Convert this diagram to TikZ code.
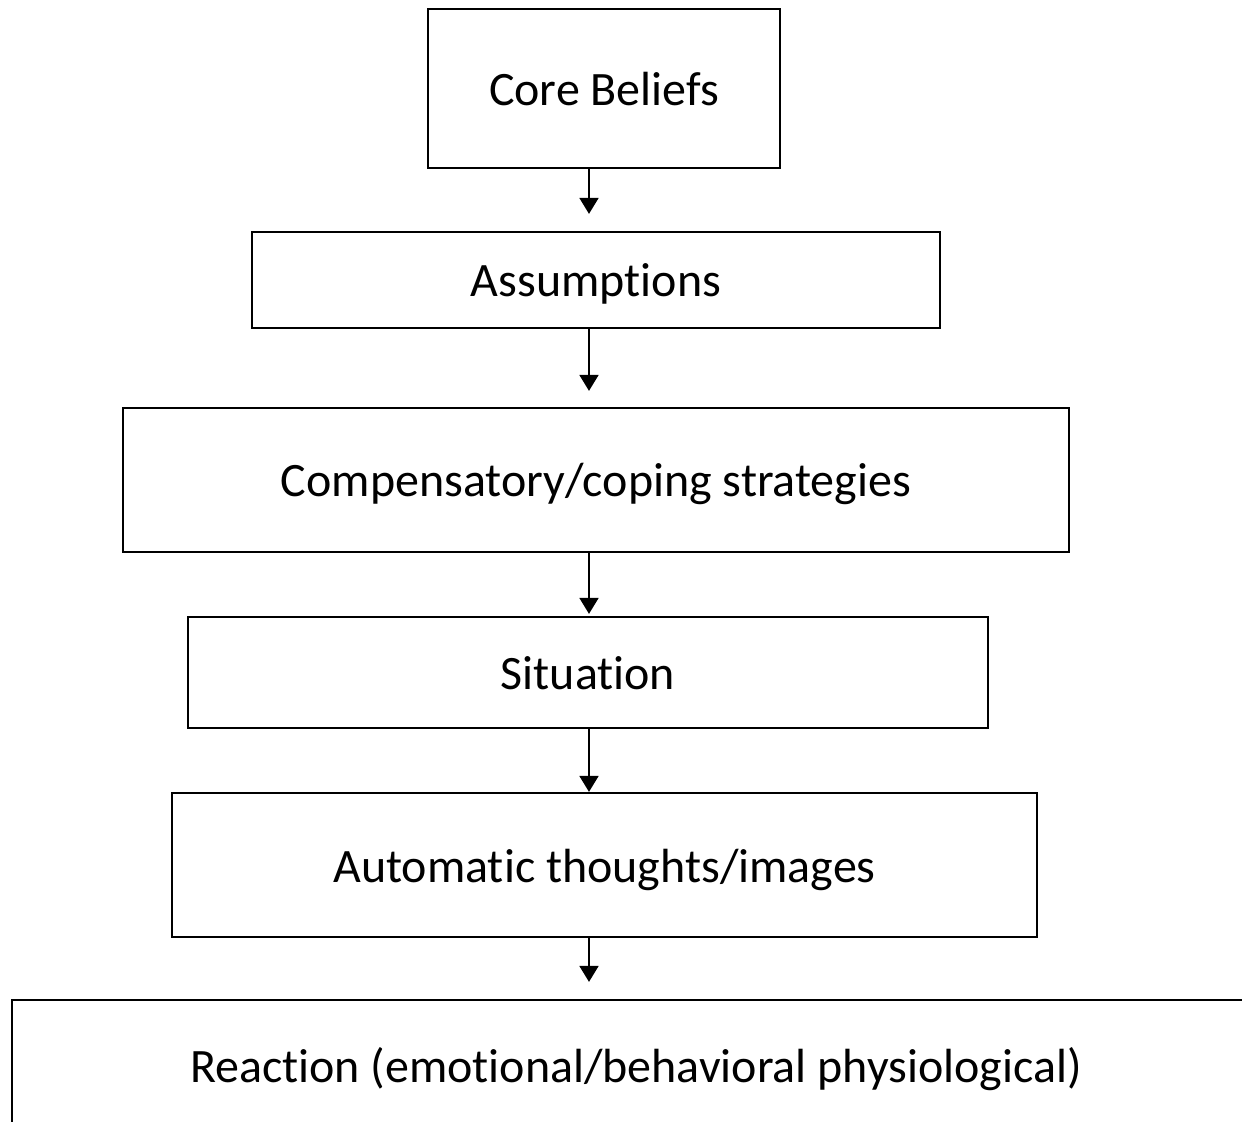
\documentclass[tikz,border=0pt]{standalone}
\usepackage{fontspec}
\setmainfont{Carlito}[Ligatures=NoCommon]
\usepackage{tikz}
\usetikzlibrary{arrows.meta, positioning}

\begin{document}
\begin{tikzpicture}[
  x=0.02cm, y=-0.02cm,
  font=\fontsize{27.3}{32}\selectfont,
  box/.style={draw=black, line width=1.3pt, rectangle,
              text height=0.86cm, text depth=0.18cm, align=center},
  flow/.style={-{Triangle[length=0.32cm, width=0.38cm]}, line width=1.1pt, black}
]
  \path[use as bounding box, clip] (0,0) rectangle (1242,1122);

  \node[box, minimum width=7.04cm, minimum height=3.18cm] (core) at (604,88.5)
    {Core Beliefs};
  \node[box, minimum width=13.76cm, minimum height=1.92cm] (assm) at (596,280)
    {Assumptions};
  \node[box, minimum width=18.92cm, minimum height=2.88cm] (comp) at (596,480)
    {Compensatory/coping strategies};
  \node[box, minimum width=16cm, minimum height=2.22cm] (situ) at (588,672.5)
    {Situation};
  \node[box, minimum width=17.3cm, minimum height=2.88cm] (auto) at (604.5,865)
    {Automatic thoughts/images};
  \node[box, minimum width=24.96cm, minimum height=2.6cm] (reac) at (636,1065)
    {Reaction (emotional/behavioral physiological)};

  \coordinate (ax) at (589,0);
  \draw[flow, shorten >=0.34cm] (core.south -| ax) -- (assm.north -| ax);
  \draw[flow, shorten >=0.32cm] (assm.south -| ax) -- (comp.north -| ax);
  \draw[flow, shorten >=0.04cm] (comp.south -| ax) -- (situ.north -| ax);
  \draw[flow] (situ.south -| ax) -- (auto.north -| ax);
  \draw[flow, shorten >=0.34cm] (auto.south -| ax) -- (reac.north -| ax);
\end{tikzpicture}
\end{document}
